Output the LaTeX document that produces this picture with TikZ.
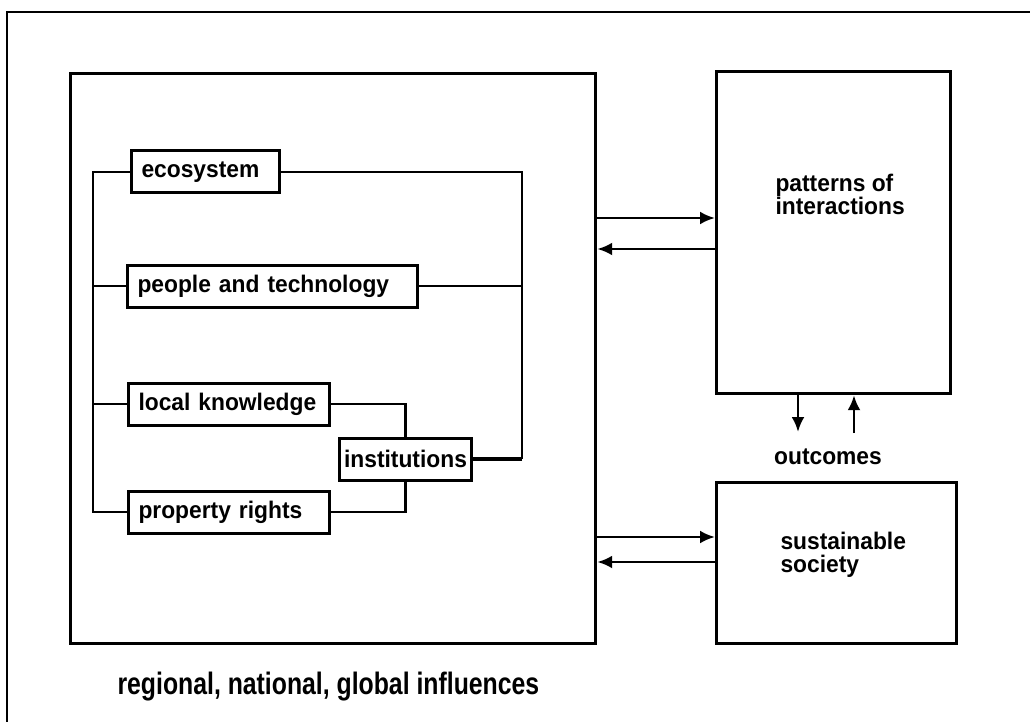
\documentclass[tikz,border=0pt]{standalone}
\usepackage{fontspec}
\usepackage{tikz}
\usetikzlibrary{arrows.meta, positioning, calc}
\newfontfamily\labelfont{Liberation Sans}[FakeStretch=0.95]
\newfontfamily\narrowfont{Liberation Sans}[FakeStretch=0.8]

\begin{document}
\begin{tikzpicture}[
    x=1pt, y=-1pt,
    every node/.style={font=\labelfont\bfseries\fontsize{24}{23}\selectfont},
    item/.style={rectangle, draw, line width=3pt, minimum height=42pt, inner xsep=10pt, inner ysep=0pt, text width=#1, align=left, anchor=west},
    bigbox/.style={draw, line width=3.2pt},
    link/.style={line width=2.6pt},
    arrow/.style={-{Latex[length=15pt,width=13pt]}, line width=2.8pt}
]
\useasboundingbox (0,0) rectangle (1030,722);

% frame
\draw[line width=2.4pt] (7,722) -- (7,12) -- (1030,12);

% main boxes
\node[bigbox, minimum width=525pt, minimum height=570pt, anchor=north west] (world) at (69,72) {};
\node[bigbox, minimum width=234pt, minimum height=322pt, anchor=north west] (patterns) at (715,70) {};
\node[bigbox, minimum width=240pt, minimum height=161pt, anchor=north west] (society) at (715,481) {};

\node[align=left, anchor=west] (patternstext) at (772,194) {patterns of\\interactions};
\node[align=left, anchor=west] (societytext) at (777,555) {sustainable\\society};
\node (outcomes) at (828,457) {outcomes};
\node[font=\narrowfont\bfseries\fontsize{31}{31}\selectfont, anchor=west] (influences) at (114,687) {regional, national, global influences};

% inner items
\node[item=128pt] (eco) at (130,172) {ecosystem};
\node[item=270pt] (people) at (126,286) {people and technology};
\node[item=181pt] (know) at (127,404) {local knowledge};
\node[item=181pt] (rights) at (127,512) {property rights};
\node[item=128pt, align=center, inner xsep=2pt] (inst) at (338,459) {institutions};

\coordinate (lbus) at (93,0);
\coordinate (rbus) at (522,0);

% connectors
\draw[link] (eco.west) -- (eco.west -| lbus) -- (rights.west -| lbus) -- (rights.west);
\draw[link] (people.west -| lbus) -- (people.west);
\draw[link] (know.west -| lbus) -- (know.west);
\draw[link] (eco.east) -- (eco.east -| rbus) -- (inst.east -| rbus);
\draw[link, line width=3.6pt] (inst.east -| rbus) -- (inst.east);
\draw[link] (people.east) -- (people.east -| rbus);
\draw[link] (know.east) -| (inst.north);
\draw[link] (rights.east) -| (inst.south);

% arrows between boxes
\draw[arrow] (world.east |- 0,218) -- (patterns.west |- 0,218);
\draw[arrow] (patterns.west |- 0,249) -- (world.east |- 0,249);
\draw[arrow] (world.east |- 0,537) -- (society.west |- 0,537);
\draw[arrow] (society.west |- 0,562) -- (world.east |- 0,562);

\coordinate (downend) at (798,432);
\coordinate (upend) at (854,433);
\draw[arrow] (patterns.south -| downend) -- (downend);
\draw[arrow] (upend) -- (patterns.south -| upend);

\end{tikzpicture}
\end{document}
